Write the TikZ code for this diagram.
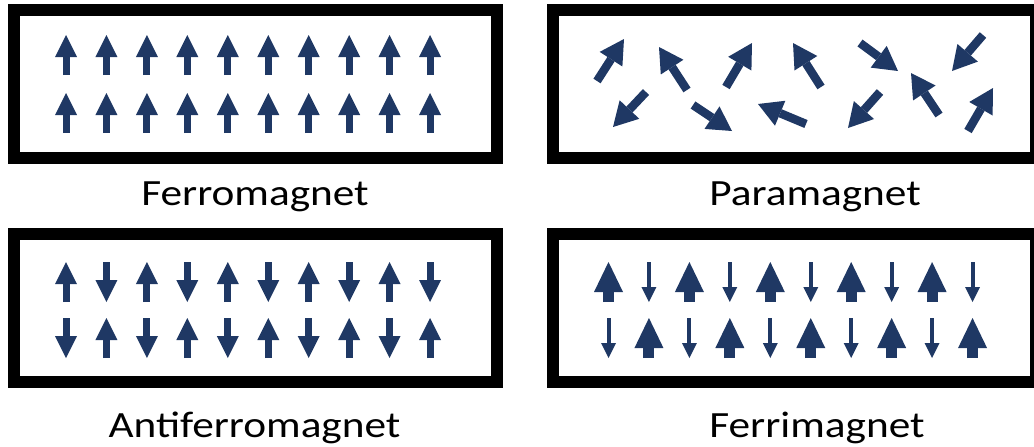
\documentclass[tikz,border=0pt]{standalone}
\usepackage{fontspec}
\setmainfont{Carlito}
\usepackage{graphicx}
\usetikzlibrary{arrows.meta}
\definecolor{spin}{RGB}{31,56,100}
\newcommand\widecaption[1]{\scalebox{1.17}[1]{#1}}
\tikzset{
  panel/.style={draw=black, line width=12pt},
  spinup/.style={draw=spin, line width=7pt,
    -{Triangle[width=22pt,length=22pt,line width=0pt]}},
  bigspin/.style={draw=spin, line width=11pt,
    -{Triangle[width=29pt,length=30pt,line width=0pt]}},
  smallspin/.style={draw=spin, line width=4pt,
    -{Triangle[width=15pt,length=15pt,line width=0pt]}},
  freespin/.style={draw=spin, line width=8.5pt,
    -{Triangle[width=27pt,length=24pt,line width=0pt]}},
  caption/.style={font=\fontsize{37pt}{40pt}\selectfont, anchor=base, inner sep=0pt},
}
\begin{document}
\begin{tikzpicture}[x=1pt, y=-1pt]
  \useasboundingbox (0,0) rectangle (1034,447);

  % four frames
  \draw[panel] (14,10) rectangle (497,158);
  \draw[panel] (553,10) rectangle (1036,158);
  \draw[panel] (14,234) rectangle (497,382);
  \draw[panel] (553,234) rectangle (1036,382);

  % ferromagnet: all spins up
  \foreach \i in {0,...,9} {
    \draw[spinup] ({66+40.45*\i},75) -- ({66+40.45*\i},35);
    \draw[spinup] ({66+40.45*\i},133) -- ({66+40.45*\i},93);
  }

  % antiferromagnet: alternating spins
  \foreach \i in {0,2,4,6,8} {
    \draw[spinup] ({66+40.45*\i},302) -- ({66+40.45*\i},262);
    \draw[spinup] ({66+40.45*(\i+1)},262) -- ({66+40.45*(\i+1)},302);
    \draw[spinup] ({66+40.45*\i},318) -- ({66+40.45*\i},358);
    \draw[spinup] ({66+40.45*(\i+1)},358) -- ({66+40.45*(\i+1)},318);
  }

  % ferrimagnet: unequal antiparallel moments
  \foreach \i in {0,2,4,6,8} {
    \draw[bigspin]   ({608.5+40.45*\i},302) -- ({608.5+40.45*\i},262);
    \draw[smallspin] ({608.5+40.45*(\i+1)},262) -- ({608.5+40.45*(\i+1)},302);
    \draw[smallspin] ({608.5+40.45*\i},318) -- ({608.5+40.45*\i},358);
    \draw[bigspin]   ({608.5+40.45*(\i+1)},358) -- ({608.5+40.45*(\i+1)},318);
  }

  % paramagnet: random orientations
  \draw[freespin] (597,81) -- (624,39);
  \draw[freespin] (646,92) -- (613,127);
  \draw[freespin] (687,90) -- (659,47);
  \draw[freespin] (693,105) -- (732,131);
  \draw[freespin] (726,87) -- (752,43);
  \draw[freespin] (806,124) -- (758,104);
  \draw[freespin] (821,87) -- (793,43);
  \draw[freespin] (860,43) -- (898,71);
  \draw[freespin] (880,92) -- (848,128);
  \draw[freespin] (939,115) -- (911,73);
  \draw[freespin] (983,35) -- (952,71);
  \draw[freespin] (968,131) -- (993,88);

  % captions
  \node[caption] (ferro) at (255,205) {\widecaption{Ferromagnet}};
  \node[caption] (para) at (815,205) {\widecaption{Paramagnet}};
  \node[caption] (antiferro) at (254.5,437) {\widecaption{Antiferromagnet}};
  \node[caption] (ferri) at (817,437) {\widecaption{Ferrimagnet}};
\end{tikzpicture}
\end{document}
